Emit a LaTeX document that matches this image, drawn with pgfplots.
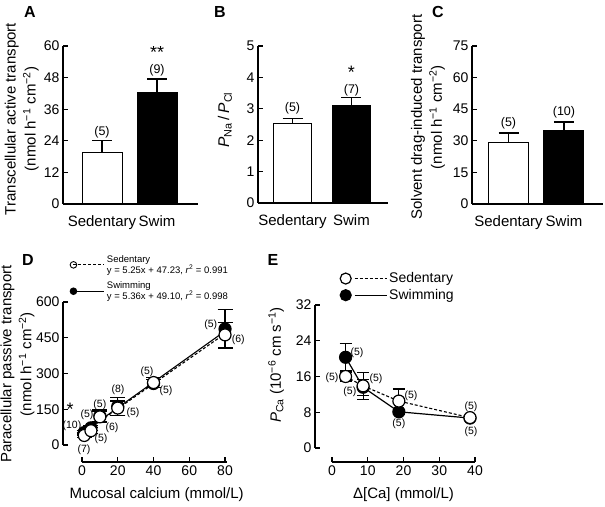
\documentclass[border=0pt]{standalone}
\usepackage{pgfplots}
\pgfplotsset{compat=1.18}
\usepackage{fontspec}
\setmainfont{Liberation Sans}
\newcommand{\sz}[2]{\fontsize{#1}{#2}\selectfont}
\tikzset{nlab/.style={font=\sz{12.5}{14}}}
\pgfplotsset{
  common/.style={
    scale only axis, axis lines*=left, tick align=inside,
    major tick length=5pt,
    axis line style={line width=1.2pt},
    every tick/.style={line width=1.2pt, black},
    /pgf/number format/assume math mode=true,
    tick label style={font=\sz{14}{15}},
  },
  barstyle/.style={
    common, ymin=0, ybar, bar width=40pt, bar shift=0pt,
    xtick={1,2}, xticklabels={Sedentary,Swim},
    x tick style={draw=none},
    xticklabel style={font=\sz{15}{17}, yshift=-3pt},
    error bars/y dir=plus, error bars/y explicit,
    error bars/error mark options={rotate=90, mark size=10pt, line width=1.2pt},
    error bars/error bar style={line width=1.2pt},
    every axis plot/.append style={line width=1pt},
  },
}
\begin{document}
\begin{tikzpicture}
\path[use as bounding box] (0,0) rectangle (605pt,506pt);
% panel letters
\node[font=\bfseries\sz{16}{18}] at (30pt,494pt) {A};
\node[font=\bfseries\sz{16}{18}] at (220pt,494pt) {B};
\node[font=\bfseries\sz{16}{18}] at (438pt,494pt) {C};
\node[font=\bfseries\sz{16}{18}] at (28pt,246pt) {D};
\node[font=\bfseries\sz{16}{18}] at (273pt,246pt) {E};

% ---------- A
\begin{axis}[barstyle, at={(63pt,302pt)}, anchor=south west,
  width=135pt, height=158pt, xmin=0.291, xmax=2.745, ymax=60,
  ytick={0,12,24,36,48,60},
  every axis y label/.style={at={(axis description cs:-0.305,0.538)}, rotate=90, anchor=center, align=center, font=\sz{15}{20}},
  ylabel={Transcellular active transport\\(nmol h\textsuperscript{−1} cm\textsuperscript{−2})}]
\addplot[fill=white, draw=black] coordinates {(1,19.4) +- (0,4.6)};
\addplot[fill=black, draw=black] coordinates {(2,42.2) +- (0,5.3)};
\node[nlab] at (axis cs:1,27.3) {(5)};
\node[nlab] at (axis cs:2,50.9) {(9)};
\node[font=\sz{18}{18}] at (axis cs:2,57.6) {**};
\end{axis}

% ---------- B
\begin{axis}[barstyle, at={(258pt,303pt)}, anchor=south west,
  width=130pt, height=157pt, xmin=0.415, xmax=2.619, ymax=5,
  ytick={0,1,2,3,4,5}, bar width=38pt,
  every axis y label/.style={at={(axis description cs:-0.254,0.53)}, rotate=90, anchor=center, align=center, font=\sz{15.5}{20}},
  ylabel={\textit{P}\textsubscript{Na}\,/\,\textit{P}\textsubscript{Cl}}]
\addplot[fill=white, draw=black] coordinates {(1,2.52) +- (0,0.18)};
\addplot[fill=black, draw=black] coordinates {(2,3.12) +- (0,0.23)};
\node[nlab] at (axis cs:1,3.03) {(5)};
\node[nlab] at (axis cs:2,3.6) {(7)};
\node[font=\sz{18}{18}] at (axis cs:2,4.15) {*};
\end{axis}

% ---------- C
\begin{axis}[barstyle, at={(472pt,302pt)}, anchor=south west,
  width=131pt, height=158pt, xmin=0.342, xmax=2.703, ymax=75,
  ytick={0,15,30,45,60,75},
  every axis y label/.style={at={(axis description cs:-0.336,0.55)}, rotate=90, anchor=center, align=center, font=\sz{15}{20}},
  ylabel={Solvent drag-induced transport\\(nmol h\textsuperscript{−1} cm\textsuperscript{−2})}]
\addplot[fill=white, draw=black] coordinates {(1,29.4) +- (0,4.3)};
\addplot[fill=black, draw=black] coordinates {(2,34.7) +- (0,4.2)};
\node[nlab] at (axis cs:1,38.4) {(5)};
\node[nlab] at (axis cs:2,43.7) {(10)};
\end{axis}

% ---------- D
\begin{axis}[common, at={(82pt,61pt)}, anchor=south west,
  width=145pt, height=143pt, xmin=0, xmax=81.1, ymin=0, ymax=600,
  separate axis lines, axis x line shift=17pt, axis y line shift=19pt,
  xtick={0,20,40,60,80}, ytick={0,150,300,450,600},
  clip=false,
  every axis y label/.style={at={(axis description cs:-0.445,0.566)}, rotate=90, anchor=center, align=center, font=\sz{15}{20}},
  ylabel={Paracellular passive transport\\(nmol h\textsuperscript{−1} cm\textsuperscript{−2})},
  every axis x label/.style={at={(axis description cs:0.515,-0.35)}, anchor=center, font=\sz{15}{17}},
  xlabel={Mucosal calcium (mmol/L)},
  error bars/y dir=both, error bars/y explicit,
  error bars/error mark options={rotate=90, mark size=7.5pt, line width=1.2pt},
  error bars/error bar style={line width=1.2pt, solid},
  legend style={draw=none, fill=none, at={(axis description cs:-0.083,1.343)}, anchor=north west,
    cells={anchor=west, align=left}, font=\sz{9.5}{11}, row sep=3pt, inner sep=0pt},
  legend image code/.code={\draw[#1, mark=none] (5pt,0pt) -- (24pt,0pt); \draw[#1, only marks, mark size=3.3pt] plot coordinates {(0pt,0pt)}; \path (0pt,0pt) -- (31pt,0pt);},
]
\addlegendimage{densely dashed, line width=0.9pt, mark=*, mark options={solid, fill=white}}
\addlegendentry{Sedentary\\y = 5.25x + 47.23, \textit{r}\textsuperscript{2} = 0.991}
\addlegendimage{solid, line width=0.9pt, mark=*, mark options={solid, fill=black}}
\addlegendentry{Swimming\\y = 5.36x + 49.10, \textit{r}\textsuperscript{2} = 0.998}
\addplot[forget plot, black, line width=1.1pt, mark=none] coordinates {(1.25,55.8) (80,477.9)};
\addplot[forget plot, black, densely dashed, line width=1.1pt, mark=none] coordinates {(1.25,53.8) (80,467.2)};
\addplot[forget plot, only marks, mark=*, mark size=6pt, mark options={fill=black, line width=1.2pt}]
  coordinates {(1.25,52) +- (0,10) (5,72) +- (0,10) (10,122) +- (0,25) (20,162) +- (0,38) (40,258) +- (0,18) (80,487) +- (0,80)};
\addplot[forget plot, only marks, mark=*, mark size=6pt, mark options={fill=white, line width=1.2pt}]
  coordinates {(1.25,40) +- (0,10) (5,60) +- (0,12) (10,118) +- (0,22) (20,155) +- (0,30) (40,262) +- (0,20) (80,462) +- (0,52)};
\begin{scope}[font=\sz{10.5}{12}]
\node at (axis cs:-5.6,80) {(10)};
\node at (axis cs:1.1,-21) {(7)};
\node at (axis cs:2.8,126) {(5)};
\node at (axis cs:10.6,25) {(5)};
\node at (axis cs:10,168) {(5)};
\node at (axis cs:16.8,71) {(6)};
\node at (axis cs:20.1,231) {(8)};
\node at (axis cs:28.5,134) {(5)};
\node at (axis cs:36.4,306) {(5)};
\node at (axis cs:47,227) {(5)};
\node at (axis cs:72,503) {(5)};
\node at (axis cs:87.4,440) {(6)};
\end{scope}
\node[font=\sz{18}{18}] at (axis cs:-6.7,150) {*};
\end{axis}

% ---------- E
\begin{axis}[common, at={(332pt,58pt)}, anchor=south west,
  width=143pt, height=143pt, xmin=0, xmax=40, ymin=0, ymax=32,
  separate axis lines, axis x line shift=14pt, axis y line shift=17pt,
  xtick={0,10,20,30,40}, ytick={0,8,16,24,32},
  clip=false,
  every axis y label/.style={at={(axis description cs:-0.39,0.58)}, rotate=90, anchor=center, align=center, font=\sz{15}{20}},
  ylabel={\textit{P}\textsubscript{Ca} (10\textsuperscript{−6} cm s\textsuperscript{−1})},
  every axis x label/.style={at={(axis description cs:0.5,-0.329)}, anchor=center, font=\sz{15}{17}},
  xlabel={Δ[Ca] (mmol/L)},
  error bars/y dir=both, error bars/y explicit,
  error bars/error mark options={rotate=90, mark size=6pt, line width=1.2pt},
  error bars/error bar style={line width=1.2pt, solid},
  legend style={draw=none, fill=none, at={(axis description cs:0.056,1.241)}, anchor=north west,
    cells={anchor=west}, font=\sz{14}{16}, row sep=1pt, inner sep=0pt},
  legend image code/.code={\draw[#1, mark=none] (9pt,0pt) -- (41pt,0pt); \draw[#1, only marks, mark size=5.5pt] plot coordinates {(0pt,0pt)};},
]
\addlegendimage{densely dashed, line width=1pt, mark=*, mark options={solid, fill=white, line width=1.2pt}}
\addlegendentry{Sedentary}
\addlegendimage{solid, line width=1pt, mark=*, mark options={solid, fill=black, line width=1.2pt}}
\addlegendentry{Swimming}
\addplot[forget plot, black, line width=1.2pt, mark=*, mark size=6pt, mark options={fill=black, solid}]
  coordinates {(3.8,20.3) +- (0,3.0) (8.7,13.6) +- (0,1.8) (18.7,8.1) +- (0,0.5) (38.6,6.7) +- (0,0.5)};
\addplot[forget plot, black, densely dashed, line width=1.1pt, mark=*, mark size=6pt, mark options={fill=white, solid, line width=1.2pt}]
  coordinates {(3.8,16.0) +- (0,1.0) (8.7,13.9) +- (0,3.0) (18.7,10.5) +- (0,2.7) (38.6,6.8) +- (0,0.5)};
\begin{scope}[font=\sz{10.5}{12}]
\node at (axis cs:7.0,21.3) {(5)};
\node at (axis cs:0,15.7) {(5)};
\node at (axis cs:12.3,15.4) {(5)};
\node at (axis cs:5.0,12.5) {(5)};
\node at (axis cs:22.1,11.6) {(5)};
\node at (axis cs:18.7,5.4) {(5)};
\node at (axis cs:38.9,9.2) {(5)};
\node at (axis cs:38.9,3.6) {(5)};
\end{scope}
\end{axis}
\end{tikzpicture}
\end{document}
